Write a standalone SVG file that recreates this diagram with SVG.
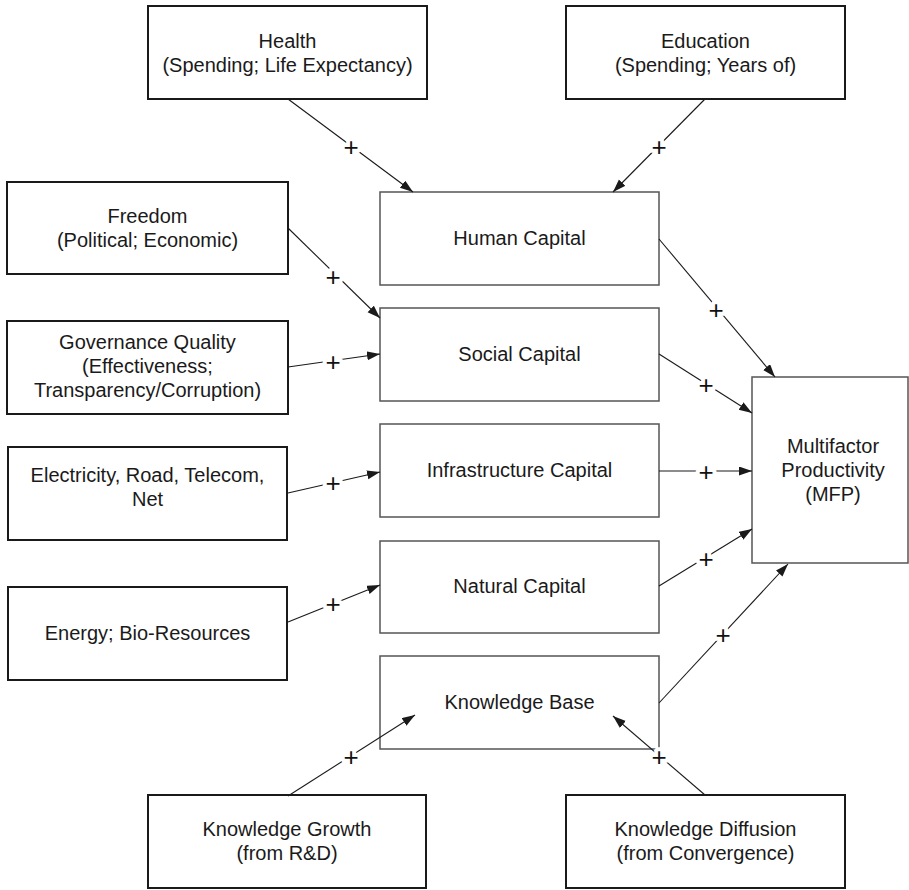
<svg xmlns="http://www.w3.org/2000/svg" width="909" height="890" viewBox="0 0 909 890">
<style>
.outer{fill:#fff;stroke:#1a1a1a;stroke-width:2}
.inner{fill:#fff;stroke:#555;stroke-width:1.5}
text{font-family:"Liberation Sans",Arial,sans-serif;font-size:20px;fill:#1a1a1a;text-anchor:middle}
.c line{stroke:#1a1a1a;stroke-width:1.1;marker-end:url(#ah)}
.p{font-size:26px;fill:#111;stroke:#fff;stroke-width:8;paint-order:stroke;stroke-linejoin:round}
</style>
<defs>
<marker id="ah" markerUnits="userSpaceOnUse" markerWidth="14" markerHeight="10" refX="13" refY="4.5" orient="auto">
<path d="M0,0 L13,4.5 L0,9 z" fill="#1a1a1a"/>
</marker>
</defs>
<rect width="909" height="890" fill="#fff"/>
<g id="health"><rect class="outer" x="148" y="6" width="279" height="93"/><text x="287.5" y="48">Health</text><text x="287.5" y="72">(Spending; Life Expectancy)</text></g>
<g id="education"><rect class="outer" x="566" y="6" width="279" height="93"/><text x="705.5" y="48">Education</text><text x="705.5" y="72">(Spending; Years of)</text></g>
<g id="freedom"><rect class="outer" x="7" y="182" width="281" height="92"/><text x="147.5" y="223">Freedom</text><text x="147.5" y="247">(Political; Economic)</text></g>
<g id="governance"><rect class="outer" x="7" y="321" width="281" height="93"/><text x="147.5" y="349">Governance Quality</text><text x="147.5" y="373">(Effectiveness;</text><text x="147.5" y="397">Transparency/Corruption)</text></g>
<g id="electricity"><rect class="outer" x="8" y="447" width="279" height="93"/><text x="147.5" y="482">Electricity, Road, Telecom,</text><text x="147.5" y="506">Net</text></g>
<g id="energy"><rect class="outer" x="8" y="587" width="279" height="93"/><text x="147.5" y="640">Energy; Bio-Resources</text></g>
<g id="human"><rect class="inner" x="380" y="192" width="279" height="93"/><text x="519.5" y="245">Human Capital</text></g>
<g id="social"><rect class="inner" x="380" y="308" width="279" height="93"/><text x="519.5" y="361">Social Capital</text></g>
<g id="infrastructure"><rect class="inner" x="380" y="424" width="279" height="93"/><text x="519.5" y="477">Infrastructure Capital</text></g>
<g id="natural"><rect class="inner" x="380" y="541" width="279" height="92"/><text x="519.5" y="593">Natural Capital</text></g>
<g id="knowledgebase"><rect class="inner" x="380" y="656" width="279" height="93"/><text x="519.5" y="709">Knowledge Base</text></g>
<g id="mfp"><rect class="inner" x="752" y="377" width="156" height="186"/><text x="833" y="453">Multifactor</text><text x="833" y="477">Productivity</text><text x="833" y="501">(MFP)</text></g>
<g id="kgrowth"><rect class="outer" x="148" y="795" width="278" height="93"/><text x="287" y="836">Knowledge Growth</text><text x="287" y="860">(from R&amp;D)</text></g>
<g id="kdiffusion"><rect class="outer" x="566" y="795" width="279" height="93"/><text x="705.5" y="836">Knowledge Diffusion</text><text x="705.5" y="860">(from Convergence)</text></g>
<g id="connectors" class="c">
<line x1="288" y1="99" x2="413" y2="192"/>
<line x1="705" y1="99" x2="613" y2="192"/>
<line x1="288" y1="228" x2="380" y2="318"/>
<line x1="288" y1="367" x2="380" y2="354"/>
<line x1="288" y1="493" x2="380" y2="472"/>
<line x1="288" y1="622" x2="380" y2="585"/>
<line x1="659" y1="239" x2="775" y2="377"/>
<line x1="659" y1="354" x2="752" y2="413"/>
<line x1="659" y1="471" x2="752" y2="471"/>
<line x1="659" y1="586" x2="752" y2="529"/>
<line x1="659" y1="703" x2="788" y2="564"/>
<line x1="288" y1="796" x2="415" y2="715"/>
<line x1="705" y1="795" x2="613" y2="716"/>
</g>
<g id="signs">
<text class="p" x="351" y="156">+</text>
<text class="p" x="659" y="156">+</text>
<text class="p" x="333" y="286">+</text>
<text class="p" x="333" y="371">+</text>
<text class="p" x="333" y="492">+</text>
<text class="p" x="333" y="613">+</text>
<text class="p" x="716" y="319">+</text>
<text class="p" x="706" y="394">+</text>
<text class="p" x="706" y="481">+</text>
<text class="p" x="706" y="568">+</text>
<text class="p" x="723" y="644">+</text>
<text class="p" x="351" y="766">+</text>
<text class="p" x="659" y="766">+</text>
</g>
</svg>
